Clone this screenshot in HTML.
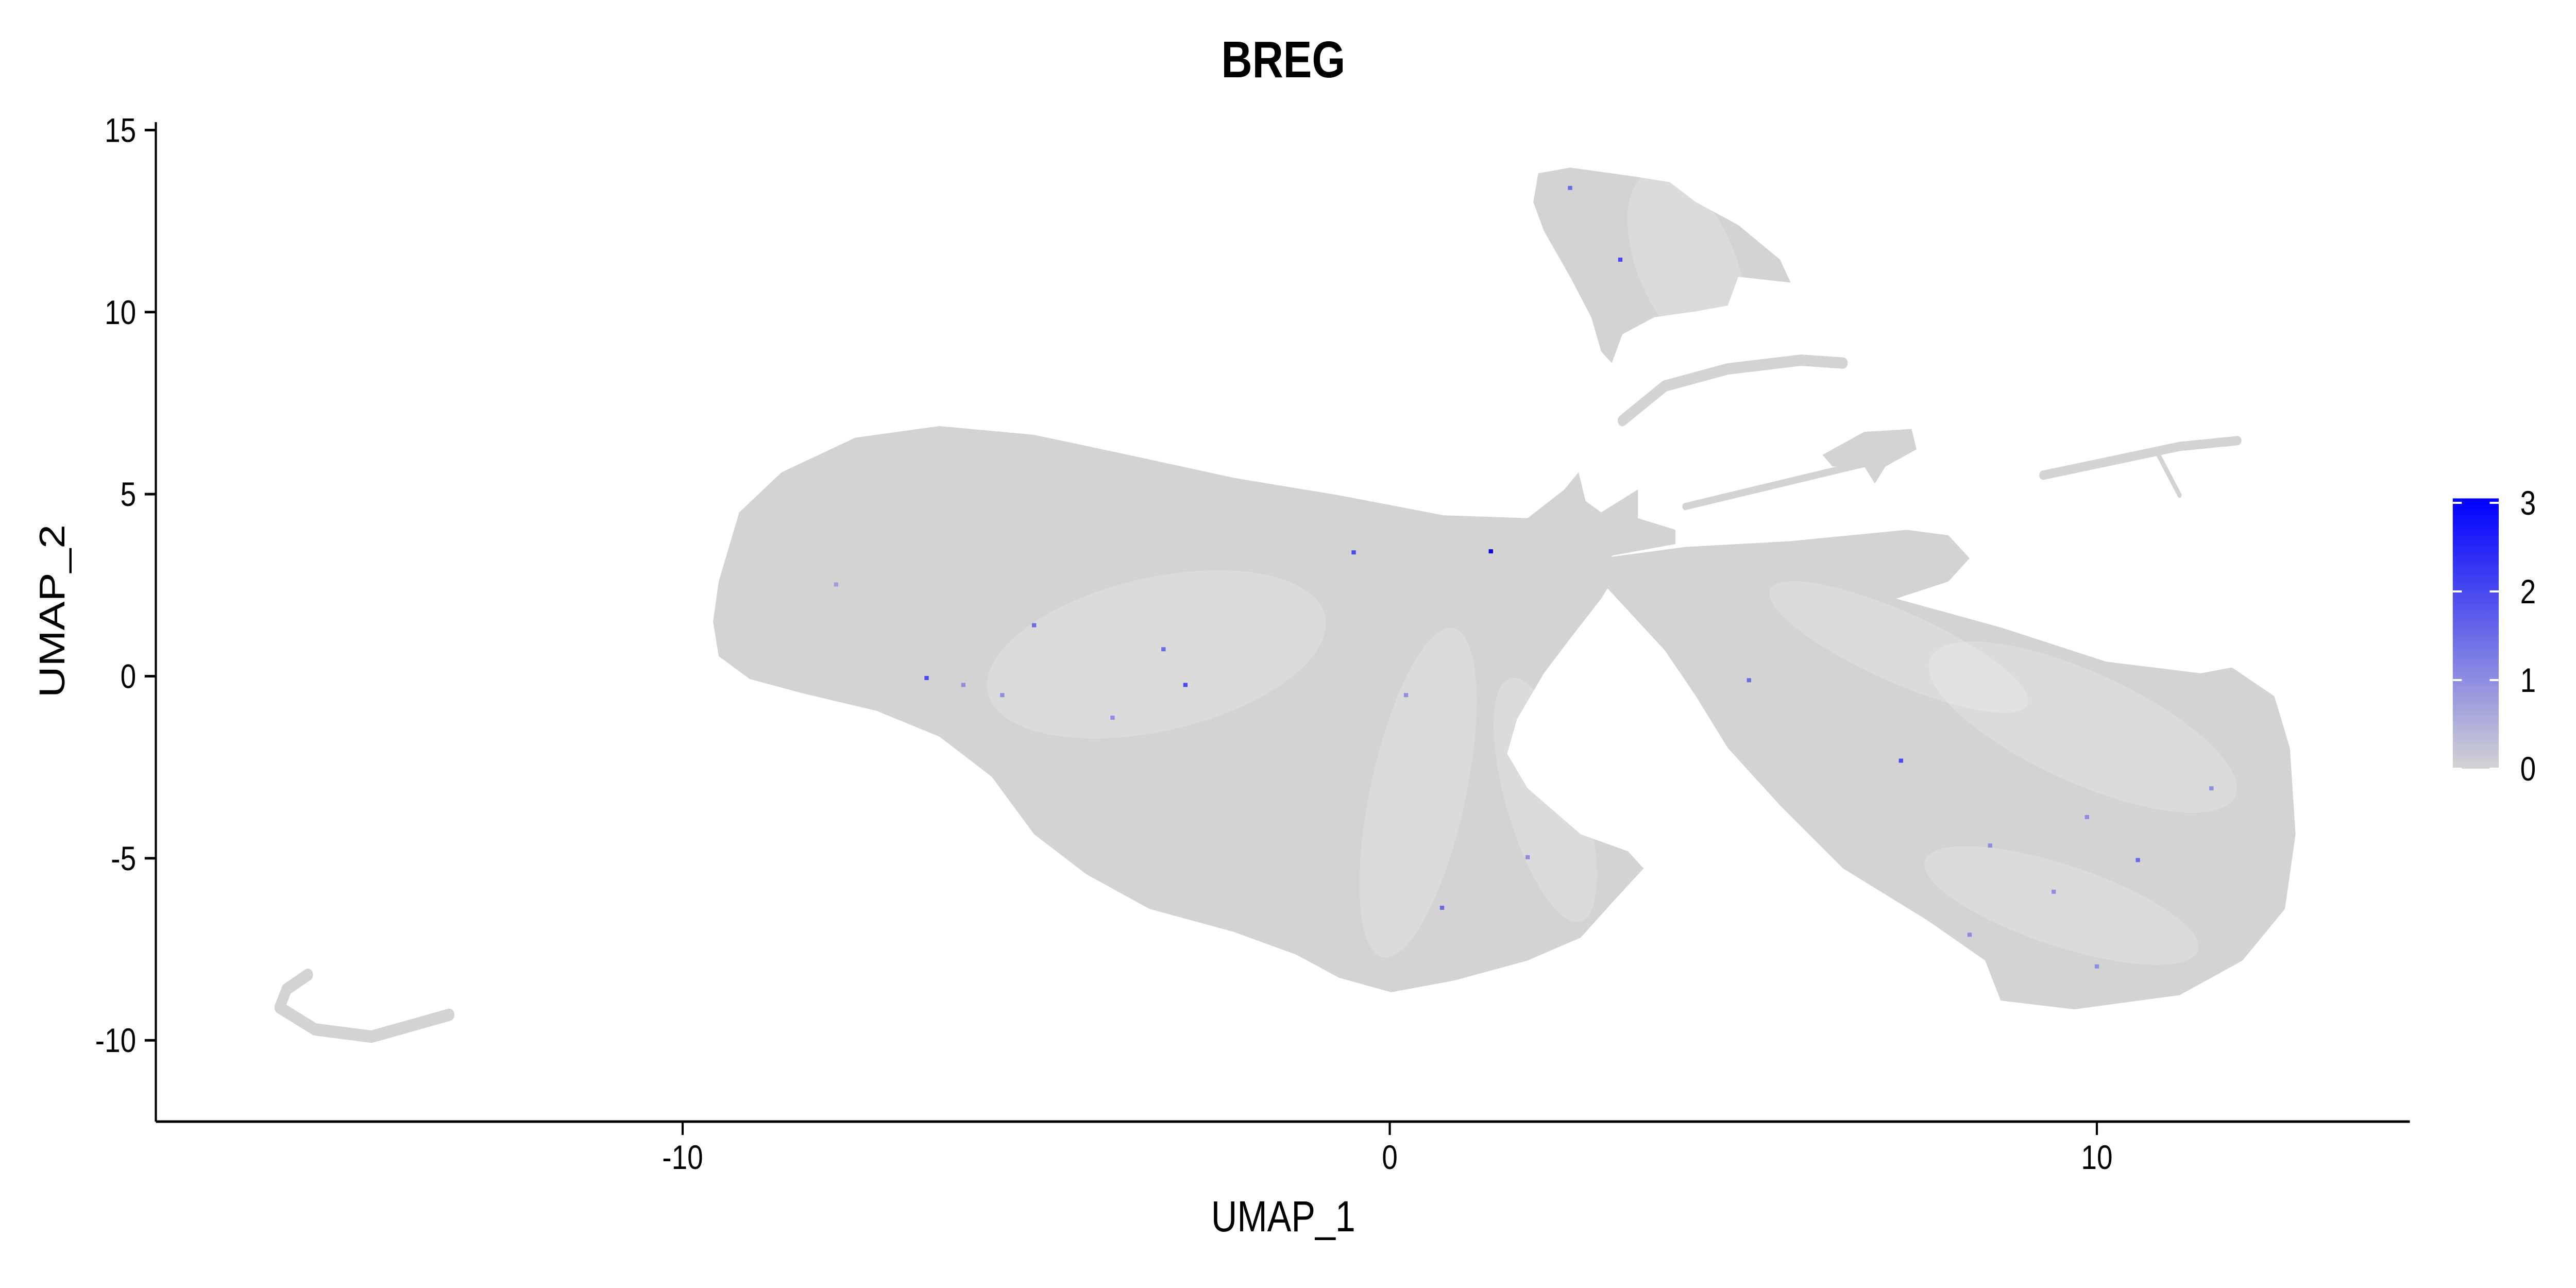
<!DOCTYPE html>
<html><head><meta charset="utf-8"><style>
html,body{margin:0;padding:0;background:#fff;width:100vw;height:100vh;overflow:hidden;}
svg{display:block;width:100vw;height:100vh;font-family:"Liberation Sans",sans-serif;}
</style></head><body>
<svg id="chart" viewBox="0 0 6000 2500" preserveAspectRatio="none" xmlns="http://www.w3.org/2000/svg">
<text x="2989" y="150" font-size="100" font-weight="bold" text-anchor="middle">BREG</text>
<g id="cells"></g>
<g id="points"></g>
<g id="axes"></g>
<text x="2989" y="2390" font-size="84" text-anchor="middle">UMAP_1</text>
<text x="0" y="0" font-size="84" text-anchor="middle" transform="translate(150,1186) rotate(-90)">UMAP_2</text>
<defs><linearGradient id="grad" x1="0" y1="1" x2="0" y2="0"><stop offset="0" stop-color="#d3d3d3"/><stop offset="1" stop-color="#0000ff"/></linearGradient></defs>
<g id="legend"></g>
</svg>
<script>
const NS="http://www.w3.org/2000/svg";
const xTicks=[-10,0,10];
const yTicks=[-10,-5,0,5,10,15];
const legendTicks=[0,1,2,3];
const mainX=[-9.57,-9.49,-9.20,-8.60,-7.56,-6.37,-5.03,-3.70,-2.21,-0.72,0.76,1.95,2.47,2.67,2.77,2.99,3.51,3.51,4.04,4.04,3.14,3.14,2.99,2.55,2.18,1.80,1.66,1.95,2.70,3.37,3.59,3.14,2.70,1.95,0.91,0.02,-0.72,-1.32,-2.21,-3.40,-4.29,-5.03,-5.63,-6.37,-7.26,-8.30,-9.05,-9.49];
const mainY=[1.50,2.60,4.50,5.60,6.55,6.87,6.63,6.08,5.45,4.97,4.42,4.34,5.13,5.60,4.81,4.50,5.13,4.34,4.02,3.63,3.31,2.60,2.13,1.03,0.08,-1.18,-2.13,-3.08,-4.34,-4.81,-5.28,-6.23,-7.18,-7.81,-8.36,-8.68,-8.28,-7.65,-7.02,-6.39,-5.44,-4.34,-2.76,-1.66,-0.95,-0.47,-0.08,0.55];
const rightX=[2.99,4.18,5.67,7.31,7.90,8.20,7.90,7.16,8.64,10.13,11.47,11.91,12.51,12.73,12.81,12.66,12.06,11.17,9.68,8.64,8.42,7.60,6.41,5.52,4.78,4.33,3.89,3.29,2.99];
const rightY=[3.24,3.55,3.71,4.02,3.87,3.24,2.60,2.13,1.34,0.40,0.08,0.24,-0.55,-1.97,-4.34,-6.39,-7.81,-8.76,-9.15,-8.91,-7.81,-6.70,-5.28,-3.55,-1.97,-0.55,0.71,1.97,2.60];
const topX=[2.10,2.55,3.44,3.96,4.33,4.93,5.52,5.67,4.93,4.78,4.33,3.74,3.29,3.14,2.99,2.85,2.55,2.18,2.03];
const topY=[13.81,13.97,13.73,13.57,13.02,12.39,11.44,10.81,10.97,10.18,10.02,9.86,9.39,8.60,8.92,9.86,10.97,12.23,13.02];
const midX=[6.12,6.71,7.38,7.45,7.01,6.86,6.71,6.26];
const midY=[6.08,6.71,6.79,6.23,5.76,5.29,5.76,5.76];
const arcX=[3.29,3.89,4.78,5.82,6.41];
const arcY=[7.02,7.97,8.44,8.68,8.60];
const lineX=[4.18,6.71];
const lineY=[4.66,5.84];
const armX=[9.24,11.17,11.99];
const armY=[5.52,6.31,6.47];
const dipX=[10.87,11.17];
const dipY=[6.08,4.97];
const leftArcX=[-15.3,-15.6,-15.7,-15.2,-14.4,-13.3];
const leftArcY=[-8.2,-8.6,-9.1,-9.7,-9.9,-9.3];
const ptX=[1.43,-0.51,3.26,2.55,-6.55,-5.03,-2.89,-3.2,7.23,5.08,0.74,-6.03,-5.48,8.49,10.58,9.39,11.62,10.0,1.95,0.23,-3.92,-7.83,8.2,9.86];
const ptY=[3.43,3.4,11.44,13.41,-0.05,1.4,-0.24,0.74,-2.32,-0.11,-6.36,-0.24,-0.52,-4.65,-5.05,-5.92,-3.08,-7.97,-4.97,-0.52,-1.14,2.52,-7.1,-3.87];
const ptV=[3,2,2,1.5,2,1.5,2,1.5,2,1.5,1.5,1,1,1,1.5,1,1,1,1,1,1,0.8,1,1];
const PL=363,PR=5613,PB=2177,PT=237;
function sx(d){return 3237+d*164.7;}
function sy(d){return 1312.5-d*70.67;}
const cells=document.getElementById('cells');
function poly(xs,ys,name){
  const p=document.createElementNS(NS,'polygon');
  p.setAttribute('points',xs.map((x,i)=>sx(x)+','+sy(ys[i])).join(' '));
  p.setAttribute('fill','#d3d3d3');
  
  
  cells.appendChild(p);
}
function line(xs,ys,w,name){
  const p=document.createElementNS(NS,'polyline');
  p.setAttribute('points',xs.map((x,i)=>sx(x)+','+sy(ys[i])).join(' '));
  p.setAttribute('fill','none');p.setAttribute('stroke','#d3d3d3');
  p.setAttribute('stroke-width',w);p.setAttribute('stroke-linecap','round');p.setAttribute('stroke-linejoin','round');
  
  
  cells.appendChild(p);
}
poly(mainX,mainY,'main-cluster');
poly(rightX,rightY,'right-cluster');
poly(topX,topY,'top-cluster');
poly(midX,midY,'middle-small-cluster');
line(arcX,arcY,22,'upper-arc');
line(lineX,lineY,14,'connector-line');
line(armX,armY,18,'right-arm');
line(dipX,dipY,10,'right-arm-dip');
line(leftArcX,leftArcY,24,'left-arc-cluster');
const sparse=[[-3.3,0.6,400,150,-10],[0.4,-3.2,110,330,15],[2.2,-3.4,90,250,-20],[9.8,-1.4,380,110,20],[7.2,0.8,320,70,20],[9.5,-6.3,330,80,15],[4.2,11.3,110,200,-30]];
sparse.forEach(s=>{
  const e=document.createElementNS(NS,'ellipse');
  e.setAttribute('cx',sx(s[0]));e.setAttribute('cy',sy(s[1]));
  e.setAttribute('rx',s[2]);e.setAttribute('ry',s[3]);
  e.setAttribute('transform','rotate('+s[4]+' '+sx(s[0])+' '+sy(s[1])+')');
  e.setAttribute('fill','#fff');e.setAttribute('opacity','0.2');
  
  
  cells.appendChild(e);
});
function col(v){const t=Math.min(v/3.05,1);const r=Math.round(211*(1-t)),b=Math.round(211+(255-211)*t);return 'rgb('+r+','+r+','+b+')';}
const pts=document.getElementById('points');
ptX.forEach((x,i)=>{
  const r=document.createElementNS(NS,'rect');
  r.setAttribute('x',sx(x)-5);r.setAttribute('y',sy(ptY[i])-4);r.setAttribute('width',10);r.setAttribute('height',8);
  r.setAttribute('fill',col(ptV[i]));
  
  
  pts.appendChild(r);
});
const ax=document.getElementById('axes');
function el(tag,attrs,parent){const e=document.createElementNS(NS,tag);for(const k in attrs)e.setAttribute(k,attrs[k]);parent.appendChild(e);return e;}
const xl=el('line',{x1:PL,y1:PB,x2:PR,y2:PB,stroke:'#000','stroke-width':5},ax);


const yl=el('line',{x1:PL,y1:PB,x2:PL,y2:PT,stroke:'#000','stroke-width':5},ax);


xTicks.forEach(t=>{
  const tk=el('line',{x1:sx(t),y1:PB,x2:sx(t),y2:PB+26,stroke:'#000','stroke-width':5},ax);
  
  
  const tx=el('text',{x:sx(t),y:PB+92,'font-size':66,'text-anchor':'middle',fill:'#000'},ax);
  tx.textContent=t;
  
  
});
yTicks.forEach(t=>{
  const tk=el('line',{x1:PL-26,y1:sy(t),x2:PL,y2:sy(t),stroke:'#000','stroke-width':5},ax);
  
  
  const tx=el('text',{x:PL-46,y:sy(t)+23,'font-size':66,'text-anchor':'end',fill:'#000'},ax);
  tx.textContent=t;
  
  
});
const lg=document.getElementById('legend');
const L0=1492,LPER=172, LTOP=L0-3.05*LPER;
function ly(v){return L0-v*LPER;}
const bar=el('rect',{x:5713,y:LTOP,width:107,height:L0-LTOP,fill:'url(#grad)'},lg);


legendTicks.forEach(t=>{
  const a=el('line',{x1:5713,y1:ly(t),x2:5734,y2:ly(t),stroke:'#fff','stroke-width':4},lg);
  
  
  const b=el('line',{x1:5799,y1:ly(t),x2:5820,y2:ly(t),stroke:'#fff','stroke-width':4},lg);
  
  
  const tx=el('text',{x:5870,y:ly(t)+23,'font-size':66,fill:'#000'},lg);
  tx.textContent=t;
  
  
});
</script>
</body></html>
